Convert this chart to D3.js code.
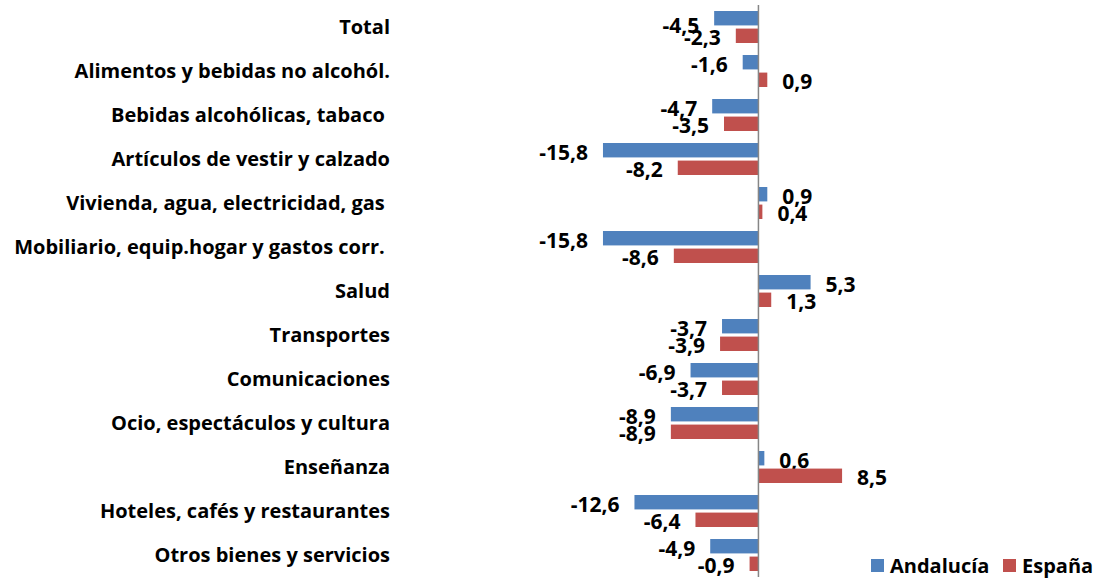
<!DOCTYPE html>
<html>
<head>
<meta charset="utf-8">
<script src="https://cdn.jsdelivr.net/npm/d3@7"></script>
<style>
  html, body { margin: 0; padding: 0; background: #fff; }
  svg text { font-family: "Open Sans", Lato, sans-serif; font-weight: bold; fill: #000; white-space: pre; }
</style>
</head>
<body>
<svg id="chart" width="1098" height="581"></svg>
<script>
const categories = [
  "Total",
  "Alimentos y bebidas no alcohól.",
  "Bebidas alcohólicas, tabaco ",
  "Artículos de vestir y calzado",
  "Vivienda, agua, electricidad, gas ",
  "Mobiliario, equip.hogar y gastos corr. ",
  "Salud",
  "Transportes",
  "Comunicaciones",
  "Ocio, espectáculos y cultura",
  "Enseñanza",
  "Hoteles, cafés y restaurantes",
  "Otros bienes y servicios"
];
const seriesNames = ["Andalucía", "España"];
const andalucia = [-4.5, -1.6, -4.7, -15.8, 0.9, -15.8, 5.3, -3.7, -6.9, -8.9, 0.6, -12.6, -4.9];
const espana    = [-2.3, 0.9, -3.5, -8.2, 0.4, -8.6, 1.3, -3.9, -3.7, -8.9, 8.5, -6.4, -0.9];
const colors = ["#4F81BD", "#C0504D"];

const svg = d3.select("#chart");
const x = d3.scaleLinear().domain([-16, 9]).range([601, 847]);
const y = d3.scaleBand().domain(categories).range([5, 577]).padding(0);
const sub = d3.scaleBand().domain(seriesNames).range([6, 38]).paddingInner(0.18);

const fmt = v => String(v.toFixed(1)).replace(".", ",");
const series = [andalucia, espana];

categories.forEach((c, i) => {
  const g = svg.append("g").attr("transform", `translate(0,${y(c)})`);
  seriesNames.forEach((s, k) => {
    const v = series[k][i];
    const x0 = Math.min(x(0), x(v)), w = Math.abs(x(v) - x(0));
    g.append("rect")
      .attr("x", x0).attr("y", sub(s))
      .attr("width", w).attr("height", sub.bandwidth())
      .attr("fill", colors[k]);
    const neg = v < 0;
    // the first pair of labels overlaps; the reference nudges the upper one down
    const nudge = (i === 0 && k === 0) ? 7 : 2;
    g.append("text")
      .attr("x", neg ? x(v) - 15 : x(v) + 15)
      .attr("y", sub(s) + sub.bandwidth() / 2 + nudge)
      .attr("dy", "0.35em")
      .attr("text-anchor", neg ? "end" : "start")
      .style("font-size", "21px")
      .text(fmt(v));
  });
  svg.append("text")
    .attr("x", 390)
    .attr("y", y(c) + 22)
    .attr("dy", "0.35em")
    .attr("text-anchor", "end")
    .style("font-size", "20px")
    .text(c);
});

// axis line at zero
svg.append("line")
  .attr("x1", x(0)).attr("x2", x(0))
  .attr("y1", 5).attr("y2", 577)
  .attr("stroke", "#868686").attr("stroke-width", 1.5);

// legend
const leg = svg.append("g");
const legX = [871, 1003];
seriesNames.forEach((s, k) => {
  leg.append("rect").attr("x", legX[k]).attr("y", 559).attr("width", 13).attr("height", 13).attr("fill", colors[k]);
  leg.append("text").attr("x", legX[k] + 19).attr("y", 566).attr("dy", "0.35em")
    .style("font-size", "20px").text(s);
});
</script>
</body>
</html>
